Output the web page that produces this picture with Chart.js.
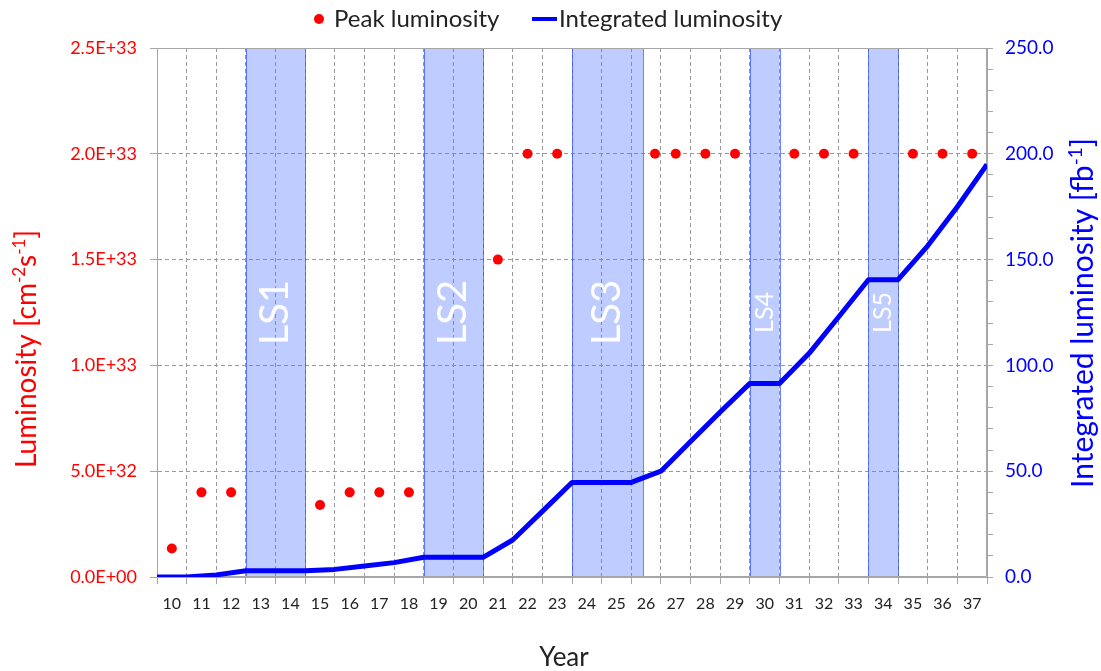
<!DOCTYPE html>
<html>
<head>
<meta charset="utf-8">
<script src="https://cdn.jsdelivr.net/npm/chart.js@4.4.1/dist/chart.umd.min.js"></script>
<style>
html,body{margin:0;padding:0;background:#fff;}
#wrap{width:1101px;height:671px;position:relative;}
</style>
</head>
<body>
<div id="wrap"><canvas id="c"></canvas></div>
<script>
// ---- data ----
const yearLabels = [10,11,12,13,14,15,16,17,18,19,20,21,22,23,24,25,26,27,28,29,30,31,32,33,34,35,36,37];
// peak luminosity (cm^-2 s^-1), placed at mid-year
const peakYears = [10,11,12,15,16,17,18,21,22,23,26.3,27,28,29,31,32,33,35,36,37];
const peakLumi  = [1.35e32,4e32,4e32,3.4e32,4e32,4e32,4e32,1.5e33,2e33,2e33,2e33,2e33,2e33,2e33,2e33,2e33,2e33,2e33,2e33,2e33];
// integrated luminosity (fb^-1) at the start of each year
const intYears = [10,11,12,13,14,15,16,17,18,19,20,21,22,23,24,25,26,27,28,29,30,31,32,33,34,35,36,37,38];
const intLumi  = [0,0,1,3,3,3,3.6,5.2,6.8,9.3,9.3,9.3,17.5,31,44.7,44.7,44.7,50,64,78,91.5,91.5,105.7,123,140.5,140.5,156.5,175,195];
// long shutdowns
const shutdownNames = ['LS1','LS2','LS3','LS4','LS5'];
const shutdownStart = [13,19,24,30,34];
const shutdownEnd   = [15,21,26.4,31,35];
const shutdownBig   = [true,true,true,false,false];
// tick values
const leftTicks  = [0,5e32,1e33,1.5e33,2e33,2.5e33];
const rightMajor = [0,50,100,150,200,250];
const rightMinorStep = 10;

const FAM = 'Lato, "Noto Sans", "DejaVu Sans", sans-serif';
const GRID = '#9a9a9a';
const AXIS = '#a6a6a6';

function sciLabel(v){
  const s = Number(v).toExponential(1).split('e');
  const e = parseInt(s[1],10);
  return s[0] + 'E' + (e < 0 ? '-' : '+') + String(Math.abs(e)).padStart(2,'0');
}

function segsWidth(ctx, segs, size){
  let w = 0;
  for (const s of segs){ ctx.font = (s.sup ? Math.round(size*0.62) : size) + 'px ' + FAM; w += ctx.measureText(s.t).width; }
  return w;
}
function drawSegs(ctx, segs, size, x0){
  let x = x0;
  for (const s of segs){
    const fs = s.sup ? Math.round(size*0.62) : size;
    ctx.font = fs + 'px ' + FAM;
    ctx.fillText(s.t, x, s.sup ? -size*0.38 : 0);
    x += ctx.measureText(s.t).width;
  }
}

const shutdownPlugin = {
  id: 'shutdowns',
  beforeDatasetsDraw(chart){
    const {ctx, chartArea, scales} = chart;
    const xs = scales.x;
    ctx.save();
    for (let i = 0; i < shutdownNames.length; i++){
      const x0 = xs.getPixelForValue(shutdownStart[i]);
      const x1 = xs.getPixelForValue(shutdownEnd[i]);
      ctx.fillStyle = 'rgba(70,110,255,0.35)';
      ctx.fillRect(x0, chartArea.top, x1 - x0, chartArea.bottom - chartArea.top);
      ctx.strokeStyle = 'rgba(50,80,255,0.7)';
      ctx.lineWidth = 1;
      ctx.strokeRect(Math.round(x0)+0.5, chartArea.top+0.5, Math.round(x1-x0), chartArea.bottom - chartArea.top - 1);
      ctx.save();
      ctx.translate((x0+x1)/2, (chartArea.top+chartArea.bottom)/2);
      ctx.rotate(-Math.PI/2);
      ctx.fillStyle = '#ffffff';
      ctx.textAlign = 'center';
      ctx.textBaseline = 'middle';
      ctx.font = (shutdownBig[i] ? 40 : 25) + 'px ' + FAM;
      ctx.fillText(shutdownNames[i], 0, 0);
      ctx.restore();
    }
    // solid border of plot area
    ctx.strokeStyle = AXIS;
    ctx.lineWidth = 1;
    const l = Math.round(chartArea.left) + 0.5, r = Math.round(chartArea.right) - 0.5;
    const t = Math.round(chartArea.top) + 0.5, b = Math.round(chartArea.bottom) - 0.5;
    ctx.beginPath();
    ctx.moveTo(l, b); ctx.lineTo(l, t); ctx.lineTo(r, t); ctx.lineTo(r, b); ctx.lineTo(l, b);
    ctx.stroke();
    ctx.restore();
  }
};

const textPlugin = {
  id: 'texts',
  afterDraw(chart){
    const {ctx} = chart;
    ctx.save();
    ctx.textBaseline = 'alphabetic';
    ctx.textAlign = 'left';
    // left axis title
    const lt = [{t:'Luminosity [cm'},{t:'-2',sup:true},{t:'s'},{t:'-1',sup:true},{t:']'}];
    ctx.fillStyle = '#ff0000';
    ctx.save();
    ctx.translate(36, 349);
    ctx.rotate(-Math.PI/2);
    drawSegs(ctx, lt, 28, -segsWidth(ctx, lt, 28)/2);
    ctx.restore();
    // right axis title
    const rt = [{t:'Integrated luminosity [fb'},{t:'-1',sup:true},{t:']'}];
    ctx.fillStyle = '#0000ff';
    ctx.save();
    ctx.translate(1093, 313);
    ctx.rotate(-Math.PI/2);
    drawSegs(ctx, rt, 30, -segsWidth(ctx, rt, 30)/2);
    ctx.restore();
    // x axis title
    ctx.fillStyle = '#222222';
    ctx.font = '26px ' + FAM;
    ctx.textAlign = 'center';
    ctx.fillText('Year', 564, 666);
    // legend
    ctx.textAlign = 'left';
    ctx.fillStyle = '#ff0000';
    ctx.beginPath();
    ctx.arc(319, 19, 5, 0, Math.PI*2);
    ctx.fill();
    ctx.fillStyle = '#222222';
    ctx.font = '24px ' + FAM;
    ctx.fillText('Peak luminosity', 334, 27);
    ctx.strokeStyle = '#0000ff';
    ctx.lineWidth = 4;
    ctx.beginPath();
    ctx.moveTo(532, 19);
    ctx.lineTo(557, 19);
    ctx.stroke();
    ctx.fillText('Integrated luminosity', 559, 27);
    ctx.restore();
  }
};

Chart.defaults.font.family = FAM;

new Chart(document.getElementById('c'), {
  type: 'scatter',
  data: {
    datasets: [
      {
        label: 'Peak luminosity',
        data: peakYears.map((y, i) => ({x: y + 0.5, y: peakLumi[i]})),
        xAxisID: 'x', yAxisID: 'y',
        pointRadius: 5, pointHoverRadius: 5,
        pointBackgroundColor: '#ff0000', pointBorderWidth: 0,
        showLine: false
      },
      {
        label: 'Integrated luminosity',
        data: intYears.map((y, i) => ({x: y, y: intLumi[i]})),
        xAxisID: 'x', yAxisID: 'y2',
        showLine: true, borderColor: '#0000ff', borderWidth: 5,
        borderJoinStyle: 'round', pointRadius: 0, pointHoverRadius: 0, tension: 0, fill: false
      }
    ]
  },
  options: {
    responsive: true,
    maintainAspectRatio: false,
    animation: false,
    devicePixelRatio: 1,
    layout: {padding: {top: 48, left: 0, right: 0, bottom: 0}},
    plugins: {legend: {display: false}, tooltip: {enabled: false}},
    scales: {
      x: {
        type: 'linear', position: 'bottom',
        min: intYears[0], max: intYears[intYears.length-1],
        afterBuildTicks(scale){ scale.ticks = yearLabels.map(y => ({value: y + 0.5})); },
        afterFit(scale){ scale.height = 94; },
        ticks: {
          autoSkip: false, maxRotation: 0, minRotation: 0, padding: 10,
          color: '#222222', font: {size: 16},
          callback: (v, i) => String(yearLabels[i])
        },
        grid: {
          offset: true, color: GRID, lineWidth: 1,
          drawTicks: true, tickLength: 7, tickColor: AXIS, tickBorderDash: [], tickWidth: 1
        },
        border: {display: true, color: AXIS, width: 1, dash: [4,3]}
      },
      y: {
        type: 'linear', position: 'left',
        min: leftTicks[0], max: leftTicks[leftTicks.length-1],
        afterBuildTicks(scale){ scale.ticks = leftTicks.map(v => ({value: v})); },
        afterFit(scale){ scale.width = 157; },
        ticks: {autoSkip: false, padding: 13, color: '#ff0000', font: {size: 18}, callback: v => sciLabel(v)},
        grid: {color: GRID, lineWidth: 1, drawTicks: true, tickLength: 7, tickColor: AXIS, tickBorderDash: []},
        border: {display: true, color: AXIS, width: 1, dash: [4,3]}
      },
      y2: {
        type: 'linear', position: 'right',
        min: rightMajor[0], max: rightMajor[rightMajor.length-1],
        afterBuildTicks(scale){
          const t = [];
          for (let v = rightMajor[0]; v <= rightMajor[rightMajor.length-1]; v += rightMinorStep) t.push({value: v});
          scale.ticks = t;
        },
        afterFit(scale){ scale.width = 114; },
        ticks: {
          autoSkip: false, padding: 12, color: '#0000ff', font: {size: 19},
          callback: v => rightMajor.includes(v) ? Number(v).toFixed(1) : ''
        },
        grid: {drawOnChartArea: false, drawTicks: true, tickLength: 6, color: AXIS, tickColor: AXIS},
        border: {display: true, color: AXIS, width: 1}
      }
    }
  },
  plugins: [shutdownPlugin, textPlugin]
});
</script>
</body>
</html>
